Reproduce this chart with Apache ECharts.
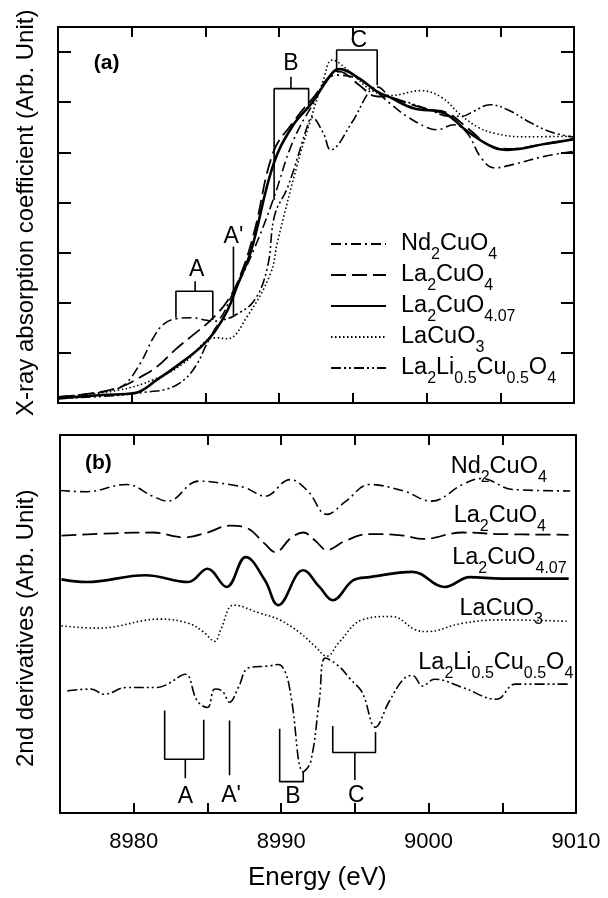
<!DOCTYPE html>
<html>
<head>
<meta charset="utf-8">
<script src="https://cdn.jsdelivr.net/npm/echarts@6/dist/echarts.min.js"></script>
<style>
  html, body { margin: 0; padding: 0; background: #fff; }
  #chart { width: 608px; height: 898px; }
</style>
</head>
<body>
<div id="chart"></div>
<script>
// ---- (a) XANES spectra: [energy eV, absorption (arb.)] ----
const ndXas = [[8975,0.12],[8977,0.18],[8978.5,0.25],[8979.5,0.36],[8980.6,0.8],[8981.5,1.32],[8982.2,1.58],[8983,1.68],[8984,1.7],[8985.1,1.65],[8985.6,1.63],[8986.9,2.21],[8988.3,3.07],[8989.6,4.06],[8990.9,5.19],[8992.2,5.91],[8993.8,6.54],[8994.9,6.51],[8996.2,6.31],[8997.5,5.98],[8998.7,5.71],[9000,5.5],[9000.7,5.45],[9001.85,5.55],[9002.76,5.38],[9003.7,4.89],[9004.6,4.69],[9005.9,4.76],[9008,4.92],[9010,5.02]];
const la2Xas = [[8975,0.12],[8977,0.18],[8979.25,0.32],[8980.6,0.52],[8981.7,0.72],[8982.9,1.05],[8984,1.32],[8985.35,1.65],[8986.5,2.04],[8987.4,2.57],[8988.3,3.4],[8989.6,5.0],[8990.9,5.58],[8992.2,6.05],[8994.1,6.61],[8995.4,6.35],[8996.5,6.12],[8997.5,6.1],[8998.9,5.96],[9000.2,5.85],[9001.3,5.8],[9002.8,5.48],[9004.2,5.15],[9005.5,5.07],[9008.1,5.17],[9010,5.27]];
const la2oxXas = [[8975,0.09],[8978,0.16],[8980.2,0.2],[8981.7,0.46],[8983.3,0.79],[8984.7,1.12],[8985.6,1.41],[8986.5,1.85],[8987.2,2.37],[8988.1,3.04],[8989.6,4.75],[8990.9,5.52],[8992.2,5.98],[8993.6,6.58],[8994.1,6.66],[8995.4,6.48],[8996.65,6.21],[8997.5,6.1],[8999.1,5.88],[9001.2,5.78],[9002.76,5.42],[9004.6,5.09],[9005.5,5.05],[9008.1,5.17],[9010,5.26]];
const lacuXas = [[8975,0.12],[8979,0.25],[8981.6,0.48],[8983.55,0.8],[8985.1,1.25],[8985.8,1.3],[8986.5,1.28],[8987.8,1.71],[8989.4,2.57],[8989.9,3.23],[8991.2,4.72],[8992,5.52],[8993,6.44],[8993.6,6.84],[8994.9,6.58],[8996.2,6.25],[8997.5,6.13],[8999.6,6.23],[9001,6.1],[9002.3,5.75],[9003.5,5.5],[9004.6,5.38],[9006.5,5.31],[9010,5.32]];
const liXas = [[8975,0.09],[8979,0.15],[8981,0.22],[8982.4,0.28],[8983.55,0.46],[8984.45,0.79],[8985.1,1.18],[8986,1.61],[8986.9,1.73],[8988.3,2.04],[8989.2,2.7],[8989.7,3.75],[8990.6,4.32],[8992,5.6],[8992.2,5.7],[8993,5.38],[8993.5,5.05],[8994.9,5.58],[8996.2,6.25],[8996.7,6.3],[8997.5,6.11],[8998.9,5.98],[9000.2,5.85],[9001.5,5.72],[9002.4,5.72],[9003.2,5.82],[9004.3,5.95],[9005.5,5.85],[9007,5.6],[9008.5,5.4],[9010,5.3]];

// ---- (b) second derivatives, offset vertically: [energy eV, value] ----
const ndDer = [[8975,8.53],[8976.8,8.5],[8979.5,8.69],[8981.3,8.38],[8982.3,8.25],[8984.4,8.78],[8986.5,8.69],[8987.6,8.6],[8988.9,8.38],[8990.6,8.82],[8991.8,8.52],[8993.1,7.9],[8994.4,8.25],[8996,8.69],[8998.3,8.52],[9000.2,8.25],[9002.3,8.69],[9003.6,8.85],[9005.7,8.56],[9009.6,8.52]];
const la2Der = [[8975.1,7.34],[8978.7,7.4],[8981.3,7.42],[8983.4,7.29],[8985,7.42],[8986.5,7.6],[8987.6,7.55],[8988.9,7.12],[8989.6,6.9],[8990.7,7.29],[8991.5,7.42],[8992.3,7.21],[8993.1,6.96],[8994.4,7.21],[8996,7.38],[8998.3,7.34],[8999.6,7.25],[9002.3,7.42],[9004.9,7.38],[9009.5,7.36]];
const la2oxDer = [[8975.1,6.18],[8976.8,6.11],[8980.8,6.29],[8983.7,6.11],[8985,6.46],[8986.3,5.98],[8987.6,6.77],[8988.9,6.16],[8989.8,5.5],[8991.5,6.42],[8992.6,5.98],[8993.5,5.63],[8994.9,6.16],[8996,6.24],[8998.9,6.38],[9001.1,5.98],[9002.8,6.24],[9004.9,6.2],[9009.5,6.2]];
const lacuDer = [[8975.1,4.95],[8977.6,4.89],[8981.8,5.13],[8983.7,5.02],[8984.7,4.8],[8985.5,4.54],[8985.9,4.85],[8986.8,5.5],[8988.6,5.28],[8989.9,5.11],[8991.3,4.76],[8992.3,4.41],[8993.1,4.15],[8993.9,4.5],[8995.5,5.11],[8997.5,5.2],[8999.1,4.85],[8999.9,4.8],[9002.3,5.02],[9004.9,5.11],[9009.5,5.07]];
const liDer = [[8975.5,3.23],[8977.1,3.28],[8978,3.14],[8979.5,3.32],[8981.6,3.32],[8982.3,3.41],[8983.5,3.67],[8984.3,2.97],[8985,2.79],[8985.5,3.28],[8986,3.23],[8986.5,2.93],[8987.1,3.32],[8987.8,3.84],[8989.2,3.89],[8989.8,3.93],[8990.3,3.71],[8990.7,3.01],[8991.5,1.09],[8992,1.35],[8992.6,3.01],[8993,4.1],[8993.9,3.89],[8994.7,3.54],[8995.5,3.19],[8996.4,2.27],[8997.3,2.93],[8998.3,3.54],[8998.9,3.64],[8999.6,3.36],[9000.4,3.54],[9002.3,3.32],[9004.6,3.01],[9005.9,3.41],[9009.6,3.41]];

// ---- feature brackets (energy, value) ----
const topBrackets = [
  [[8983.0,1.70],[8983.0,2.23],[8985.5,2.23],[8985.5,1.66]],
  [[8984.3,2.23],[8984.3,2.43]],
  [[8986.9,3.12],[8986.9,1.75]],
  [[8989.66,4.05],[8989.66,6.27],[8992.0,6.27],[8992.0,5.91]],
  [[8990.8,6.27],[8990.8,6.51]],
  [[8993.9,6.60],[8993.9,7.04],[8996.65,7.04],[8996.65,6.34]]
];
const botBrackets = [
  [[8982.1,2.71],[8982.1,1.42],[8984.75,1.42],[8984.75,2.47]],
  [[8983.5,1.42],[8983.5,0.92]],
  [[8986.5,2.45],[8986.5,1.0]],
  [[8989.9,2.23],[8989.9,0.83],[8991.5,0.83],[8991.5,1.09]],
  [[8993.5,2.30],[8993.5,1.60],[8996.4,1.60],[8996.4,2.14]],
  [[8995.0,1.60],[8995.0,0.87]]
];
const topLetters = [[8984.4,2.65,'A'],[8986.9,3.32,"A'"],[8990.8,6.77,'B'],[8995.4,7.22,'C']];
const botLetters = [[8983.5,0.42,'A'],[8986.6,0.46,"A'"],[8990.8,0.42,'B'],[8995.1,0.46,'C']];
const panelTags = [[8978.3,6.77,'(a)'],[8977.6,9.26,'(b)']];
// compound labels drawn beside the (b) traces: [energy, value, rich text]
const derLabels = [
  [9001.5,9.17,'{m|Nd}{s|2}{m|CuO}{s|4}'],
  [9001.7,7.86,'{m|La}{s|2}{m|CuO}{s|4}'],
  [9001.6,6.77,'{m|La}{s|2}{m|CuO}{s|4.07}'],
  [9002.1,5.41,'{m|LaCuO}{s|3}'],
  [8999.3,3.97,'{m|La}{s|2}{m|Li}{s|0.5}{m|Cu}{s|0.5}{m|O}{s|4}']
];

const names = ['Nd2CuO4','La2CuO4','La2CuO4.07','LaCuO3','La2Li0.5Cu0.5O4'];
const richNames = {
  'Nd2CuO4':'{m|Nd}{s|2}{m|CuO}{s|4}',
  'La2CuO4':'{m|La}{s|2}{m|CuO}{s|4}',
  'La2CuO4.07':'{m|La}{s|2}{m|CuO}{s|4.07}',
  'LaCuO3':'{m|LaCuO}{s|3}',
  'La2Li0.5Cu0.5O4':'{m|La}{s|2}{m|Li}{s|0.5}{m|Cu}{s|0.5}{m|O}{s|4}'
};
const styles = [
  {type:[10,4,2,4], width:1.6},
  {type:[15,6], width:1.8},
  {type:'solid', width:2.6},
  {type:[1.5,2.5], width:1.6},
  {type:[10,3,2,3,2,3], width:1.6}
];
const xasSets = [ndXas, la2Xas, la2oxXas, lacuXas, liXas];
const derSets = [ndDer, la2Der, la2oxDer, lacuDer, liDer];

const FONT = '"Liberation Sans", Arial, Helvetica, sans-serif';
const rich = {
  m: {fontSize: 23.5, fontFamily: FONT, color: '#000', lineHeight: 30, verticalAlign: 'middle'},
  s: {fontSize: 16, fontFamily: FONT, color: '#000', lineHeight: 16, verticalAlign: 'bottom', padding: [0,0,-4,0]}
};

const tenOnly = (i, v) => v % 10 === 0;
function xAx(grid, pos, labels) {
  return {
    type: 'value', gridIndex: grid, position: pos, min: 8975, max: 9010, interval: 5,
    axisLine: {show: true, onZero: false, lineStyle: {color: '#000', width: 2}},
    axisTick: {show: true, inside: true, length: 10, interval: (i, v) => v % 10 === 0 && v < 9010, lineStyle: {color: '#000', width: 2}},
    axisLabel: labels ? {show: true, interval: tenOnly, formatter: v => (v % 10 === 0 ? String(v) : ''), fontSize: 22, fontFamily: FONT, color: '#000', margin: 18} : {show: false},
    splitLine: {show: false}
  };
}
function yAx(grid, pos, max, ticks) {
  return {
    type: 'value', gridIndex: grid, position: pos, min: 0, max: max, interval: 1,
    axisLine: {show: true, onZero: false, lineStyle: {color: '#000', width: 2}},
    axisTick: {show: ticks, inside: true, length: 13, lineStyle: {color: '#000', width: 2}},
    axisLabel: {show: false}, splitLine: {show: false}
  };
}

const series = [];
names.forEach((n, i) => {
  series.push({name: n, type: 'line', xAxisIndex: 0, yAxisIndex: 0, data: xasSets[i], smooth: 0.4,
    symbol: 'none', lineStyle: {color: '#000', width: styles[i].width, type: styles[i].type}, itemStyle: {color: '#000'}, z: 3});
  series.push({name: n + ' d2', type: 'line', xAxisIndex: 2, yAxisIndex: 2, data: derSets[i], smooth: 0.4,
    symbol: 'none', lineStyle: {color: '#000', width: styles[i].width, type: styles[i].type}, itemStyle: {color: '#000'}, z: 3});
});
topBrackets.forEach(b => series.push({type: 'line', xAxisIndex: 0, yAxisIndex: 0, data: b, symbol: 'none', silent: true,
  lineStyle: {color: '#000', width: 1.6}}));
botBrackets.forEach(b => series.push({type: 'line', xAxisIndex: 2, yAxisIndex: 2, data: b, symbol: 'none', silent: true,
  lineStyle: {color: '#000', width: 1.6}}));

function textSeries(xi, yi, arr, style) {
  return {type: 'scatter', xAxisIndex: xi, yAxisIndex: yi, symbolSize: 0, silent: true,
    itemStyle: {opacity: 1, color: '#000'},
    data: arr.map(d => ({value: [d[0], d[1]], txt: d[2]})),
    label: Object.assign({show: true, position: 'inside', formatter: p => p.data.txt, color: '#000', opacity: 1, fontFamily: FONT}, style)};
}
series.push(textSeries(0, 0, topLetters, {fontSize: 23}));
series.push(textSeries(2, 2, botLetters, {fontSize: 23}));
series.push(textSeries(0, 0, [panelTags[0]], {fontSize: 21, fontWeight: 'bold'}));
series.push(textSeries(2, 2, [panelTags[1]], {fontSize: 21, fontWeight: 'bold'}));
series.push({type: 'scatter', xAxisIndex: 2, yAxisIndex: 2, symbolSize: 0, silent: true,
  itemStyle: {opacity: 1, color: '#000'},
  data: derLabels.map(d => ({value: [d[0], d[1]], txt: d[2]})),
  label: {show: true, position: 'right', distance: 0, formatter: p => p.data.txt, rich: rich}});

const option = {
  animation: false,
  backgroundColor: '#fff',
  grid: [
    {left: 58, right: 34, top: 27, height: 376},
    {left: 60, right: 32, top: 435, height: 378}
  ],
  xAxis: [xAx(0, 'bottom', false), xAx(0, 'top', false), xAx(1, 'bottom', true), xAx(1, 'top', false)],
  yAxis: [yAx(0, 'left', 7.5, true), yAx(0, 'right', 7.5, true), yAx(1, 'left', 10, false), yAx(1, 'right', 10, false)],
  legend: {
    data: names, orient: 'vertical', left: 330, top: 232, padding: 0, itemWidth: 55, itemHeight: 14, itemGap: 0,
    itemStyle: {opacity: 0, borderWidth: 0},
    formatter: n => richNames[n],
    textStyle: {rich: rich, padding: [0,0,0,10]}, selectedMode: false
  },
  graphic: [
    {type: 'text', left: 248, top: 865, style: {text: 'Energy (eV)', font: '26px ' + FONT, fill: '#000'}},
    {type: 'text', x: 14, y: 416, rotation: Math.PI / 2, style: {text: 'X-ray absorption coefficient (Arb. Unit)', font: '24px ' + FONT, fill: '#000'}},
    {type: 'text', x: 14, y: 767, rotation: Math.PI / 2, style: {text: '2nd derivatives (Arb. Unit)', font: '24px ' + FONT, fill: '#000'}}
  ],
  series: series
};
const chart = echarts.init(document.getElementById('chart'), null, {renderer: 'canvas'});
chart.setOption(option);
</script>
</body>
</html>
